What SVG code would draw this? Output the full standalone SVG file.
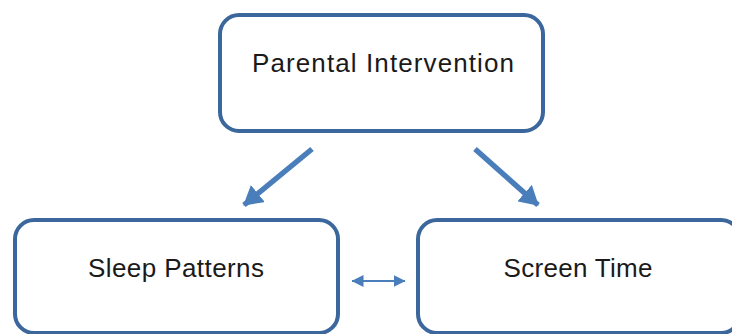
<svg xmlns="http://www.w3.org/2000/svg" width="732" height="334" viewBox="0 0 732 334">
  <defs>
    <style>
      .box { fill: #ffffff; stroke: #3b679c; stroke-width: 4; }
      .label { font-family: "Liberation Sans", Arial, sans-serif; font-size: 26px; fill: #1a1a1a; text-anchor: middle; }
      .thick { stroke: #4a7ebb; stroke-width: 5.5; fill: none; }
      .thin { stroke: #4a7ebb; stroke-width: 2.2; fill: none; }
    </style>
    <marker id="bigHead" markerUnits="userSpaceOnUse" viewBox="0 0 19 22" refX="18" refY="11" markerWidth="19" markerHeight="22" orient="auto">
      <polygon points="0,0 19,11 0,22" fill="#4a7ebb"/>
    </marker>
    <marker id="smallHead" markerUnits="userSpaceOnUse" viewBox="0 0 12 12" refX="11.5" refY="6" markerWidth="12" markerHeight="12" orient="auto-start-reverse">
      <polygon points="0,0 12,6 0,12" fill="#4a7ebb"/>
    </marker>
  </defs>
  <rect width="732" height="334" fill="#ffffff"/>
  <g id="connectors">
    <line class="thick" x1="312" y1="149" x2="244" y2="205" marker-end="url(#bigHead)"/>
    <line class="thick" x1="475" y1="149" x2="538" y2="205" marker-end="url(#bigHead)"/>
    <line class="thin" x1="352" y1="281" x2="405" y2="281" marker-start="url(#smallHead)" marker-end="url(#smallHead)"/>
  </g>
  <g id="parental-intervention">
    <rect class="box" x="220" y="15" width="323" height="116" rx="19" ry="19"/>
    <text class="label" x="383" y="72" textLength="262" lengthAdjust="spacing">Parental Intervention</text>
  </g>
  <g id="sleep-patterns">
    <rect class="box" x="15" y="220" width="323" height="113" rx="19" ry="19"/>
    <text class="label" x="176" y="277" textLength="176" lengthAdjust="spacing">Sleep Patterns</text>
  </g>
  <g id="screen-time">
    <rect class="box" x="418" y="220" width="322" height="113" rx="19" ry="19"/>
    <text class="label" x="578" y="277" textLength="149" lengthAdjust="spacing">Screen Time</text>
  </g>
</svg>
